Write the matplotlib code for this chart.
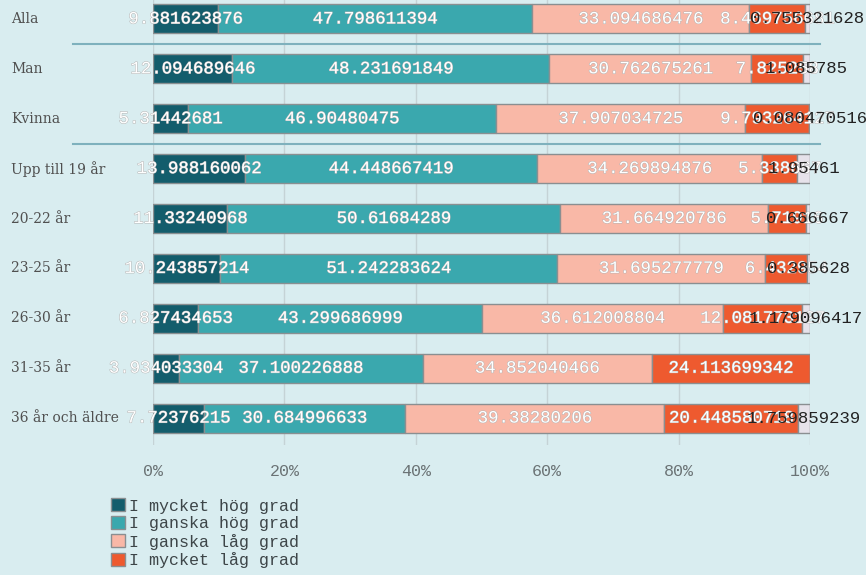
import matplotlib
matplotlib.use("Agg")
import matplotlib.pyplot as plt
import matplotlib.patheffects as pe
from matplotlib.patches import Patch
import matplotlib.transforms as mtransforms

# groups, top to bottom
groups = ["Alla", "Man", "Kvinna", "Upp till 19 år", "20-22 år", "23-25 år",
          "26-30 år", "31-35 år", "36 år och äldre"]

# shares in percent per answer
mycket_hog = [9.881623876, 12.094689646, 5.31442681, 13.988160062, 11.33240968,
              10.243857214, 6.827434653, 3.934033304, 7.72376215]
ganska_hog = [47.798611394, 48.231691849, 46.90480475, 44.448667419, 50.61684289,
              51.242283624, 43.299686999, 37.100226888, 30.684996633]
ganska_lag = [33.094686476, 30.762675261, 37.907034725, 34.269894876, 31.664920786,
              31.695277779, 36.612008804, 34.852040466, 39.38280206]
mycket_lag = [8.469756681, 7.825258, 9.793264127, 5.338667, 5.719160,
              6.432954, 12.081773127, 24.113699342, 20.448580718]
vet_ej = [0.755321628, 1.085785, 0.080470516, 1.954610, 0.666667,
          0.385628, 1.179096417, 0.0, 1.759859239]

series = [mycket_hog, ganska_hog, ganska_lag, mycket_lag, vet_ej]
names = ["I mycket hög grad", "I ganska hög grad", "I ganska låg grad", "I mycket låg grad", "Vet ej"]
colors = ["#135d6c", "#3aa8ae", "#f9b8a7", "#ee5a2f", "#e6e2ea"]
ticks = [0, 20, 40, 60, 80, 100]

bg = "#d9edf0"
fig = plt.figure(figsize=(8.66, 5.75), dpi=100, facecolor=bg)
ax = fig.add_axes([153 / 866, 1 - 445 / 575, 657 / 866, 445 / 575], facecolor=bg)

ypos = list(range(len(groups)))
left = [0.0] * len(groups)
for k, vals in enumerate(series):
    ax.barh(ypos, vals, left=left, height=0.58, color=colors[k],
            edgecolor="#8a8f91", linewidth=1, zorder=3)
    for i, v in enumerate(vals):
        if v <= 0:
            continue
        cx = left[i] + v / 2
        if k < 4:
            ax.text(cx, i, f"{v}", ha="center", va="center", color="white",
                    fontsize=12.5, family="Liberation Mono", zorder=5,
                    path_effects=[pe.withStroke(linewidth=0.7, foreground="#b4b4b4")])
        else:
            ax.text(cx, i, f"{v}", ha="center", va="center", color="#222222",
                    fontsize=12.5, family="Liberation Mono", zorder=6)
    left = [a + b for a, b in zip(left, vals)]

ax.set_xlim(0, 100)
ax.set_ylim(8.54, -0.38)
ax.set_xticks(ticks)
ax.set_xticklabels([f"{t}%" for t in ticks], family="Liberation Mono",
                   fontsize=12, color="#6b7375")
ax.tick_params(axis="x", length=0, pad=14)
ax.set_yticks([])
ax.grid(axis="x", color="#c5d3d6", linewidth=1, zorder=0)
for s in ax.spines.values():
    s.set_visible(False)

# group labels on the left
trans = mtransforms.blended_transform_factory(ax.transAxes, ax.transData)
for i, g in enumerate(groups):
    ax.text(-0.216, i, g, transform=trans, ha="left", va="center",
            fontsize=10, family="DejaVu Serif", color="#505050")

# separators between blocks
for yy in [0.5, 2.5]:
    ax.plot([-0.122, 1.015], [yy, yy], transform=trans, color="#7eb1bd",
            linewidth=1.5, clip_on=False, zorder=2)

handles = [Patch(facecolor=colors[k], edgecolor="#8a8f91") for k in range(4)]
fig.legend(handles, names[:4], loc="upper left", bbox_to_anchor=(103 / 866, 1 - 490 / 575),
           frameon=False, prop={"family": "Liberation Mono", "size": 12},
           handlelength=0.8, handleheight=0.8, handletextpad=0.25,
           labelspacing=0.15, borderpad=0, labelcolor="#3d4548")

fig.savefig("out.png", dpi=100, facecolor=bg)
